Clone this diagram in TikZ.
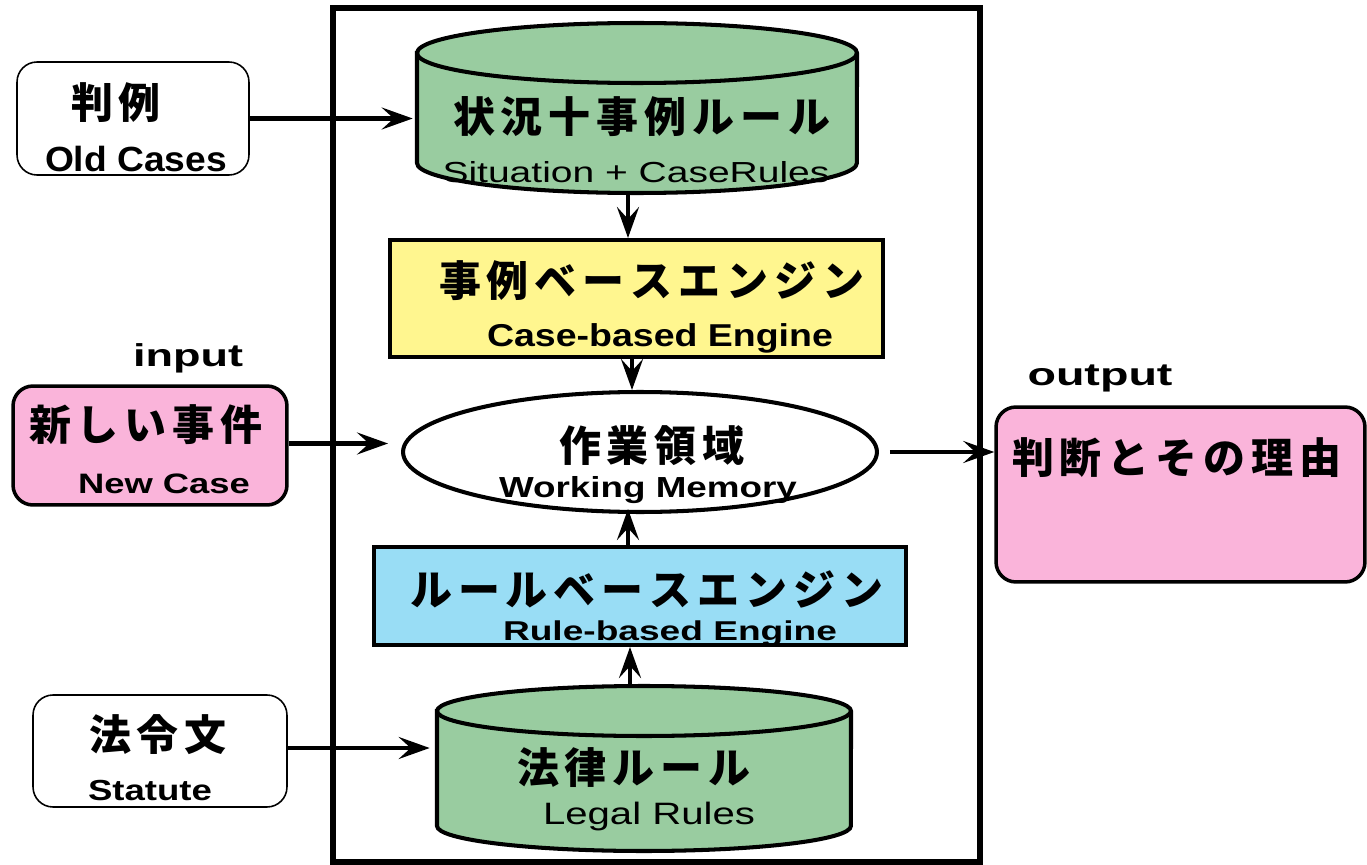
\documentclass[tikz,border=0pt]{standalone}
\usepackage{fontspec}
\usepackage{graphicx}
\setmainfont{Liberation Sans}
\newfontfamily\jp{Noto Sans CJK JP}
\usetikzlibrary{arrows.meta,shapes.geometric}
\definecolor{cgreen}{RGB}{153,204,160}
\definecolor{cyellow}{RGB}{255,246,143}
\definecolor{cblue}{RGB}{153,221,245}
\definecolor{cpink}{RGB}{250,180,218}
\newlength\pitchlen
\makeatletter
\def\spaced#1#2{\setlength\pitchlen{#1}\spaced@loop#2\relax}
\def\spaced@loop#1{\ifx\relax#1\else\makebox[\pitchlen]{#1}\expandafter\spaced@loop\fi}
\makeatother
\newcommand\jt[2][0.96cm]{{\jp\bfseries\fontsize{23.9}{28}\selectfont\spaced{#1}{#2}}}
\newcommand\lt[4]{\resizebox{#1}{\height}{\fontsize{#2}{#2}\selectfont#3#4}}
\begin{document}
\begin{tikzpicture}[x=0.02cm,y=-0.02cm,
  txt/.style={inner sep=0pt},
  en/.style={inner sep=0pt, anchor=base},
  thinbox/.style={draw, line width=0.9pt, rounded corners=0.4cm, fill=white, inner sep=0pt},
  pinkbox/.style={draw, line width=2pt, rounded corners=0.4cm, fill=cpink, inner sep=0pt},
  engbox/.style={draw, line width=2.3pt, inner sep=0pt},
  cylbody/.style={fill=cgreen, draw, line width=2.3pt},
  arr/.style={line width=2.3pt, -{Stealth[length=0.62cm,width=0.44cm,inset=0.24cm]}}
]
\useasboundingbox (0,0) rectangle (1367,865);
\fill[white] (0,0) rectangle (1367,865);

% frame
\node[draw, line width=3.4pt, minimum width=12.94cm, minimum height=17.08cm, inner sep=0pt] (frame) at (656.5,435) {};

% left boxes
\node[thinbox, minimum width=4.64cm, minimum height=2.26cm] (oldc) at (133,118.5) {};
\node[pinkbox, minimum width=5.48cm, minimum height=2.38cm] (newc) at (150,445.5) {};
\node[thinbox, minimum width=5.08cm, minimum height=2.24cm] (stat) at (160,751) {};

% output box
\node[pinkbox, minimum width=7.38cm, minimum height=3.5cm] (out) at (1180.5,494.5) {};

% cylinder 1
\node[inner sep=0pt, minimum width=8.8cm, minimum height=3.4cm] (cyl1) at (637,108) {};
\path[cylbody] (417,53) -- (417,163) arc[start angle=180,end angle=360,x radius=4.4cm,y radius=0.6cm] -- (857,53) arc[start angle=0,end angle=180,x radius=4.4cm,y radius=0.6cm] -- cycle;
\draw[line width=2.3pt] (417,53) arc[start angle=180,end angle=360,x radius=4.4cm,y radius=0.6cm];

% engines
\node[engbox, fill=cyellow, minimum width=9.86cm, minimum height=2.34cm] (ceng) at (636.5,298.5) {};
\node[engbox, fill=cblue, minimum width=10.64cm, minimum height=1.96cm] (reng) at (640,596) {};

% working memory
\node[ellipse, draw, line width=2.3pt, fill=white, inner sep=0pt, minimum width=9.48cm, minimum height=2.4cm] (wm) at (640,452) {};

% cylinder 2
\node[inner sep=0pt, minimum width=8.28cm, minimum height=3.3cm] (cyl2) at (644,768.5) {};
\path[cylbody] (437,711) -- (437,826) arc[start angle=180,end angle=360,x radius=4.14cm,y radius=0.5cm] -- (851,711) arc[start angle=0,end angle=180,x radius=4.14cm,y radius=0.5cm] -- cycle;
\draw[line width=2.3pt] (437,711) arc[start angle=180,end angle=360,x radius=4.14cm,y radius=0.5cm];

% connectors
\draw[arr, shorten >=0.08cm] (oldc.east) -- (oldc.east -| cyl1.west);
\draw[arr] ([xshift=-0.18cm]cyl1.south) -- ([xshift=-0.18cm]cyl1.south |- ceng.north);
\draw[arr] ([xshift=-0.09cm]ceng.south) -- ([xshift=-0.09cm]ceng.south |- wm.north);
\draw[arr, shorten >=0.26cm] ([yshift=0.04cm]newc.east) -- ([yshift=0.04cm]newc.east -| wm.west);
\draw[arr, shorten <=0.22cm] (wm.east) -- (wm.east -| out.west);
\draw[arr, shorten >=-0.1cm] ([xshift=-0.24cm]reng.north) -- ([xshift=-0.24cm]reng.north |- wm.south);
\draw[arr] ([xshift=-0.28cm]cyl2.north) -- ([xshift=-0.28cm]cyl2.north |- reng.south);
\draw[arr, shorten >=0.14cm] ([yshift=0.06cm]stat.east) -- ([yshift=0.06cm]stat.east -| cyl2.west);

% Japanese labels
\node[txt] (j-oldc) at (116,103) {\jt{判例}};
\node[txt] (j-cyl1) at (642,117) {\jt{状況十事例ルール}};
\node[txt] (j-ceng) at (652,281) {\jt{事例ベースエンジン}};
\node[txt] (j-newc) at (146,425) {\jt{新しい事件}};
\node[txt] (j-wm) at (652,446) {\jt{作業領域}};
\node[txt] (j-out) at (1177,458) {\jt{判断とその理由}};
\node[txt] (j-reng) at (647,589) {\jt{ルールベースエンジン}};
\node[txt] (j-cyl2) at (634,768) {\jt{法律ルール}};
\node[txt] (j-stat) at (158,735) {\jt{法令文}};

% English labels
\node[en] (e-oldc) at (136,172) {\lt{3.64cm}{19.9}{\bfseries}{Old Cases}};
\node[en] (e-cyl1) at (636,183) {\lt{7.74cm}{16.5}{}{Situation + CaseRules}};
\node[en] (e-ceng) at (660,346) {\lt{6.92cm}{18}{\bfseries}{Case-based Engine}};
\node[en] (e-newc) at (164,493) {\lt{3.44cm}{16}{\bfseries}{New Case}};
\node[en] (e-wm) at (648,497) {\lt{5.96cm}{16.5}{\bfseries}{Working Memory}};
\node[en] (e-reng) at (670,640) {\lt{6.68cm}{15.5}{\bfseries}{Rule-based Engine}};
\node[en] (e-stat) at (150,800) {\lt{2.48cm}{16.5}{\bfseries}{Statute}};
\node[en] (e-cyl2) at (649,824) {\lt{4.24cm}{17.6}{}{Legal Rules}};
\node[en] (input) at (188,366) {\lt{2.2cm}{18}{\bfseries}{input}};
\node[en] (output) at (1100,385) {\lt{2.9cm}{18}{\bfseries}{output}};
\end{tikzpicture}
\end{document}
